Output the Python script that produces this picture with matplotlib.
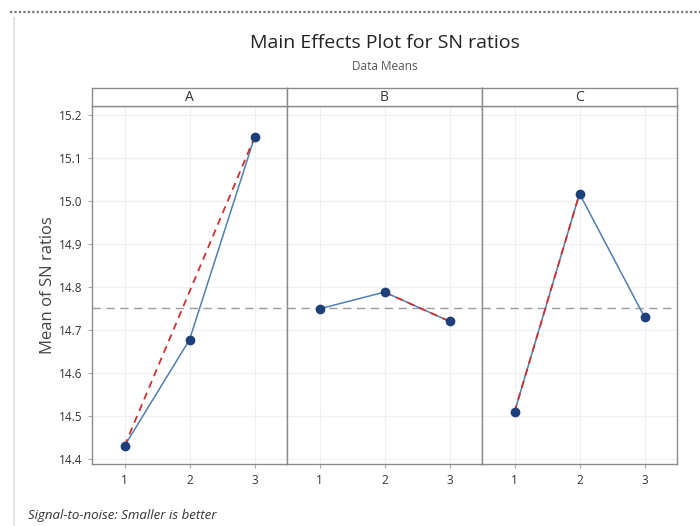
import matplotlib.pyplot as plt
from matplotlib.lines import Line2D

# factor levels and mean SN ratios
levels = [1, 2, 3]
factors = ["A", "B", "C"]
sn_a = [14.430, 14.677, 15.148]
sn_b = [14.749, 14.788, 14.720]
sn_c = [14.509, 15.017, 14.730]
sn_means = [sn_a, sn_b, sn_c]
overall_mean = 14.752

# red dashed overlay, drawn between two levels in each panel
red_levels = [[1, 3], [2, 3], [1, 2]]

y_ticks = [14.4, 14.5, 14.6, 14.7, 14.8, 14.9, 15.0, 15.1, 15.2]

LINE_COLOR = "#4f7fae"
MARKER_COLOR = "#1d3f7c"
RED = "#d03030"
FRAME = "#8c8c8c"
GRID = "#f0f0f0"

plt.rcParams["font.family"] = ["Open Sans", "DejaVu Sans"]

fig = plt.figure(figsize=(7, 5.26), dpi=100)

# faint page border like the screenshot
fig.add_artist(Line2D([0.014, 1.0], [1 - 12 / 526, 1 - 12 / 526], color="#777777",
                      lw=1.6, ls=(0, (1, 1)), transform=fig.transFigure))
fig.add_artist(Line2D([14 / 700, 14 / 700], [0, 1 - 18 / 526], color="#e4e4e4",
                      lw=1.5, transform=fig.transFigure))

left_px, right_px = 92, 677
top_px, bottom_px = 106, 464
strip_top = 88
pw = (right_px - left_px) / 3

for i, name in enumerate(factors):
    x0 = (left_px + i * pw) / 700
    ax = fig.add_axes([x0, 1 - bottom_px / 526, pw / 700, (bottom_px - top_px) / 526])
    vals = sn_means[i]
    ax.axhline(overall_mean, color="#9a9a9a", lw=1.0, ls=(0, (6, 4)), zorder=1)
    ax.plot(levels, vals, color=LINE_COLOR, lw=1.1, zorder=2)
    rx = red_levels[i]
    ry = [vals[levels.index(v)] for v in rx]
    ax.plot(rx, ry, color=RED, lw=1.3, ls=(0, (4, 3)), zorder=3)
    ax.plot(levels, vals, ls="none", marker="o", ms=6, color=MARKER_COLOR, zorder=4)

    ax.set_xlim(0.5, 3.5)
    ax.set_ylim(14.388, 15.221)
    ax.set_xticks(levels)
    ax.set_xticklabels([str(v) for v in levels], fontsize=8.5, color="#333333")
    ax.set_yticks(y_ticks)
    ax.grid(True, color=GRID, lw=0.8)
    ax.set_axisbelow(True)
    for s in ax.spines.values():
        s.set_color(FRAME)
        s.set_linewidth(1.0)
    ax.tick_params(axis="both", length=3, color="#aaaaaa", pad=4)
    if i == 0:
        ax.set_yticklabels([f"{v:.1f}" for v in y_ticks], fontsize=8.5, color="#333333")
    else:
        ax.tick_params(axis="y", left=False, labelleft=False)

    # strip header with factor name
    strip = fig.add_axes([x0, 1 - top_px / 526, pw / 700, (top_px - strip_top) / 526])
    strip.set_xticks([])
    strip.set_yticks([])
    for s in strip.spines.values():
        s.set_color(FRAME)
        s.set_linewidth(1.0)
    strip.text(0.5, 0.45, name, ha="center", va="center", fontsize=10, color="#333333",
               transform=strip.transAxes)

fig.text(48 / 700, 1 - 285 / 526, "Mean of SN ratios", rotation=90, ha="center", va="center",
         fontsize=12, color="#444444")
fig.text(385 / 700, 1 - 43 / 526, "Main Effects Plot for SN ratios", ha="center", va="center",
         fontsize=14, color="#222222")
fig.text(385 / 700, 1 - 66 / 526, "Data Means", ha="center", va="center",
         fontsize=8.5, color="#555555")
fig.text(28 / 700, 1 - 516 / 526, "Signal-to-noise: Smaller is better", ha="left", va="center",
         fontsize=9.5, style="italic", color="#333333")

fig.savefig("out.png", dpi=100)
